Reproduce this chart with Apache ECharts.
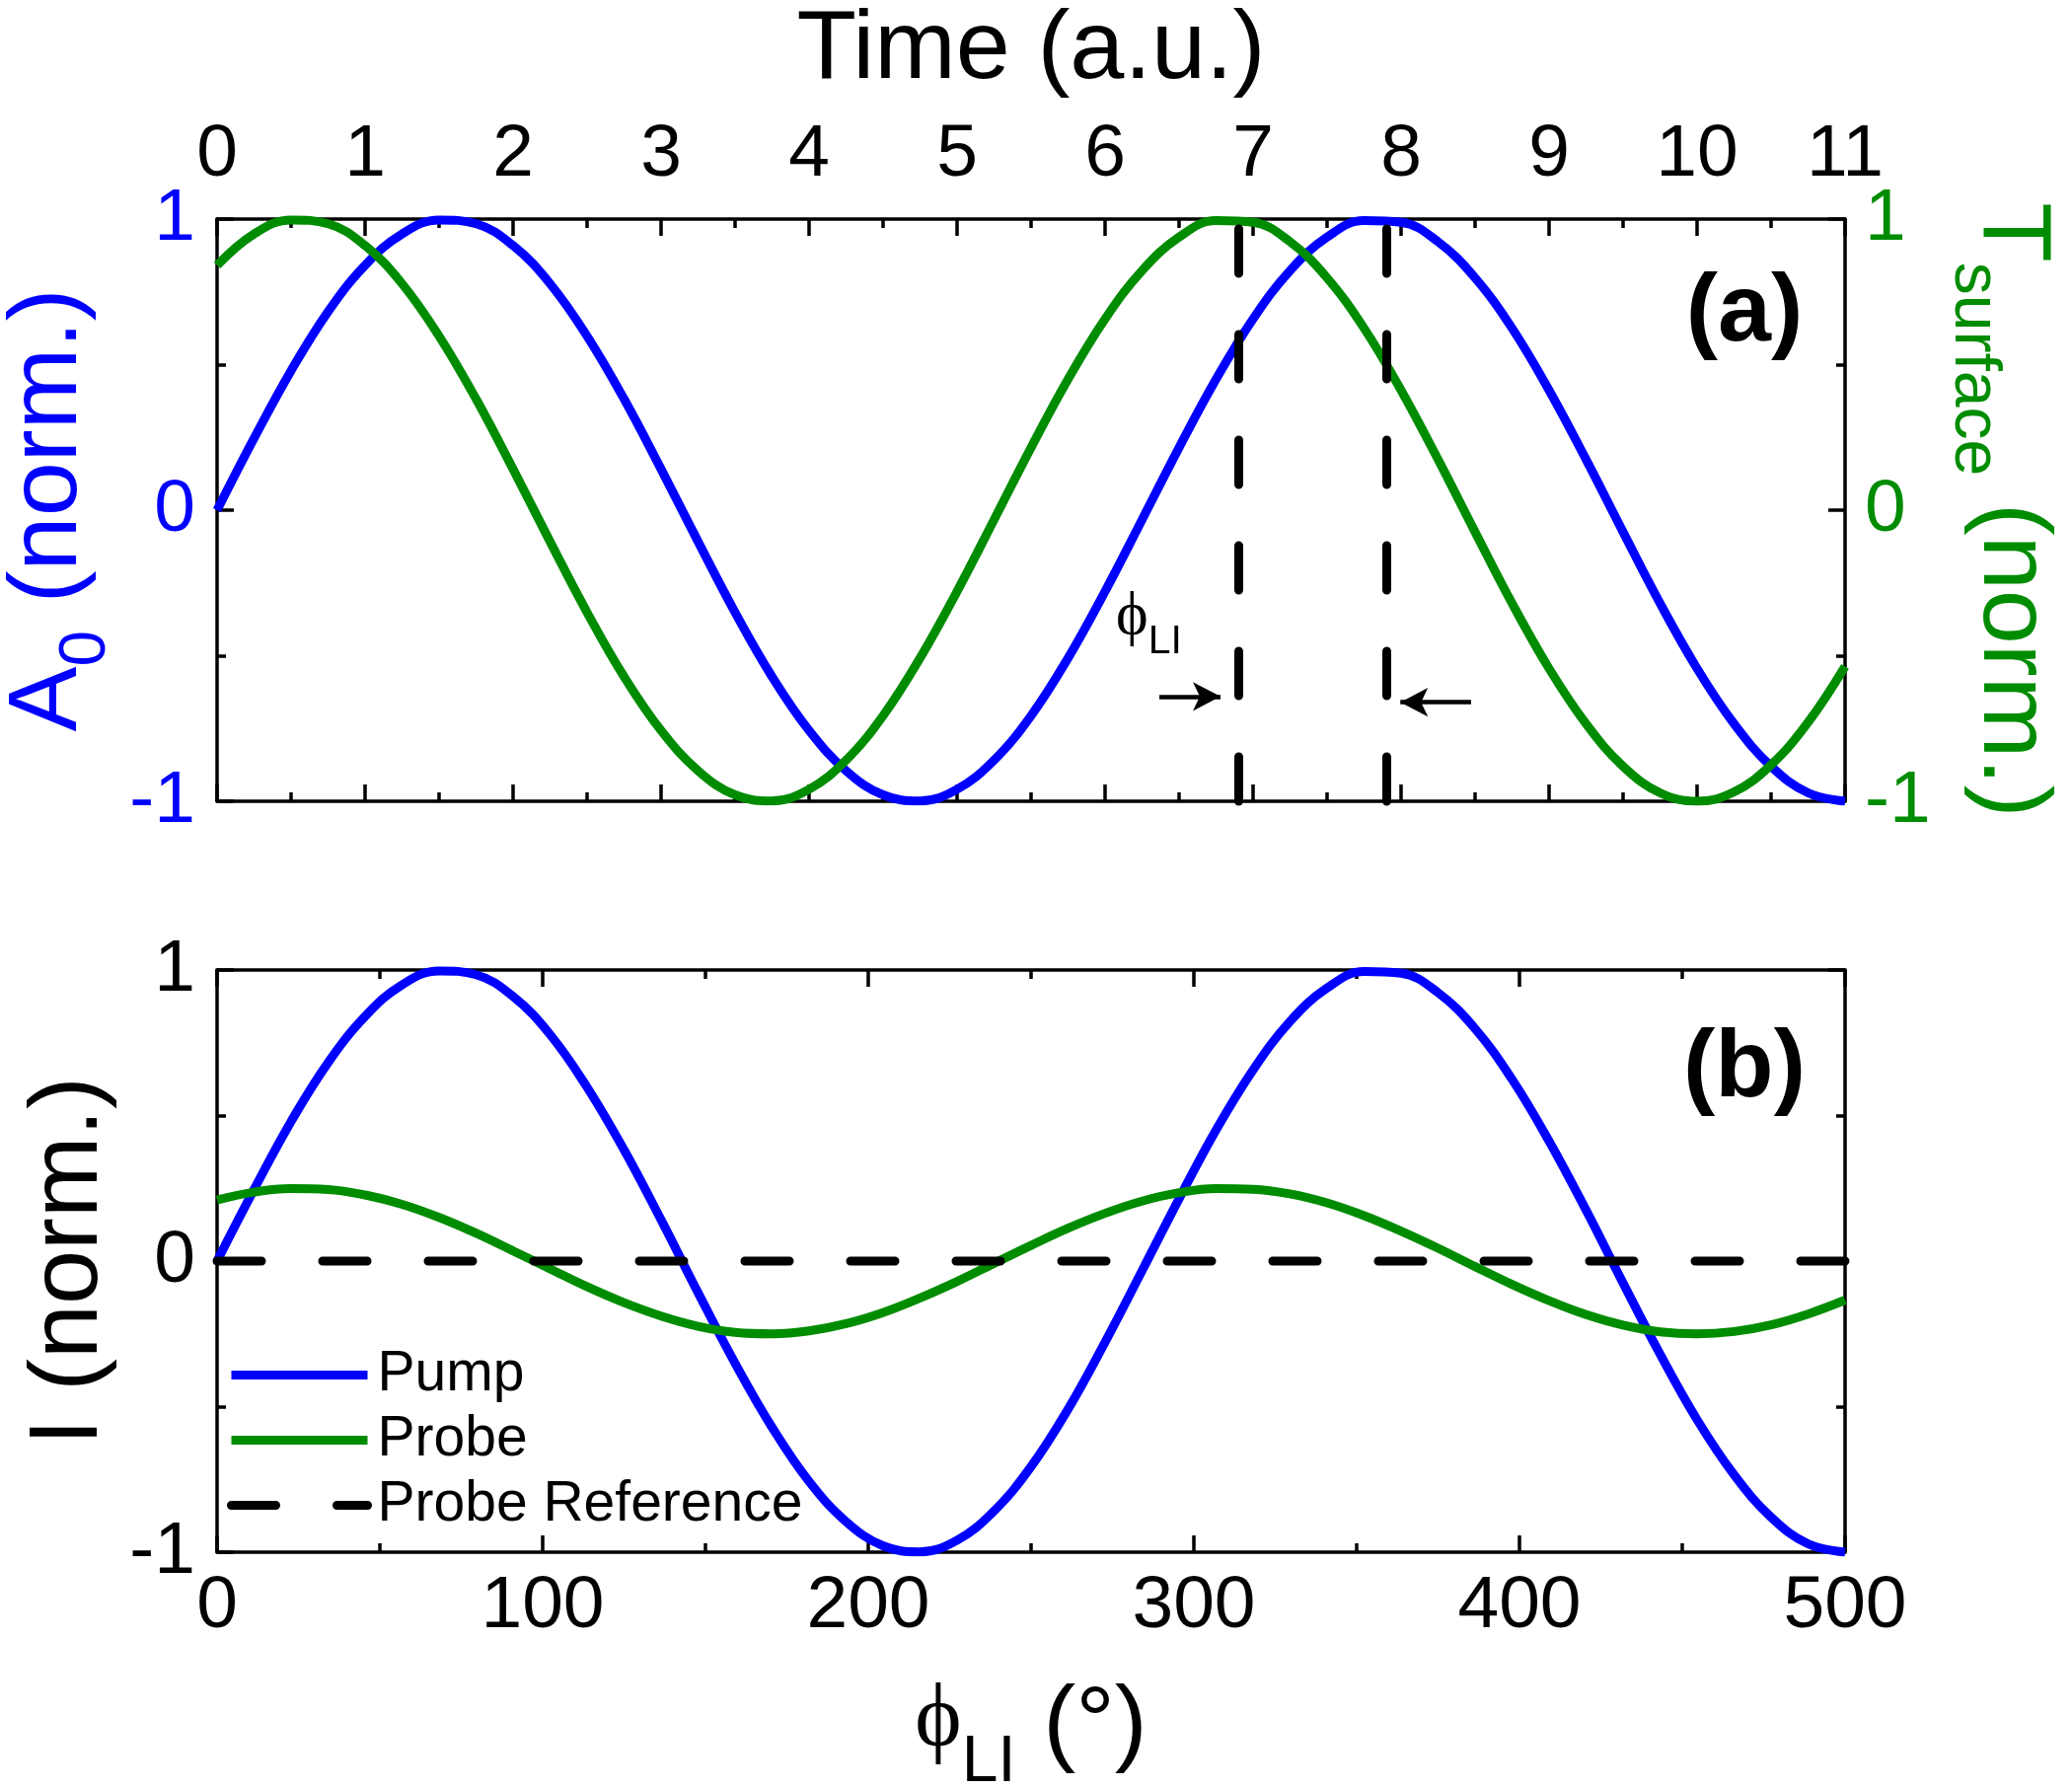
<!DOCTYPE html>
<html>
<head>
<meta charset="utf-8">
<title>Pump / probe phase</title>
<script src="https://cdn.jsdelivr.net/npm/echarts@6/dist/echarts.min.js"></script>
<style>
  html, body { margin: 0; padding: 0; background: #fff; }
  #chart { width: 2100px; height: 1813px; }
</style>
</head>
<body>
<div id="chart"></div>
<script>
/* values, one sample every 0.25 a.u. of time */

// panel (a): time axis (a.u.)
var sampleTime = [0, 0.25, 0.5, 0.75, 1, 1.25, 1.5, 1.75, 2, 2.25, 2.5, 2.75, 3, 3.25, 3.5, 3.75,
    4, 4.25, 4.5, 4.75, 5, 5.25, 5.5, 5.75, 6, 6.25, 6.5, 6.75, 7, 7.25, 7.5, 7.75,
    8, 8.25, 8.5, 8.75, 9, 9.25, 9.5, 9.75, 10, 10.25, 10.5, 10.75, 11];
// A0 (norm.)  - blue
var pumpA0 = [0, 0.247, 0.479, 0.682, 0.841, 0.949, 0.997, 0.984, 0.909, 0.778, 0.598, 0.382, 0.141,
    -0.108, -0.351, -0.572, -0.757, -0.895, -0.978, -0.999, -0.959, -0.859, -0.706, -0.508, -0.279,
    -0.033, 0.215, 0.450, 0.657, 0.823, 0.938, 0.995, 0.989, 0.922, 0.798, 0.625, 0.412, 0.174,
    -0.075, -0.320, -0.544, -0.734, -0.880, -0.971, -1.000];
// T surface (norm.) - green
var surfaceT = [0.841, 0.949, 0.997, 0.984, 0.909, 0.778, 0.598, 0.382, 0.141, -0.108, -0.351,
    -0.572, -0.757, -0.895, -0.978, -0.999, -0.959, -0.859, -0.706, -0.508, -0.279, -0.033, 0.215,
    0.450, 0.657, 0.823, 0.938, 0.995, 0.989, 0.922, 0.798, 0.625, 0.412, 0.174, -0.075, -0.320,
    -0.544, -0.734, -0.880, -0.971, -1.000, -0.968, -0.875, -0.729, -0.537];
// dashed markers and the two arrows of phi_LI
var markerTime = [6.9, 7.9];
var arrowLeft = [[6.367, -0.64], [6.78, -0.64]];
var arrowRight = [[8.473, -0.66], [7.995, -0.66]];

// panel (b): phi_LI (deg)
var phiDeg = [0, 11.4, 22.7, 34.1, 45.5, 56.8, 68.2, 79.5, 90.9, 102.3, 113.6, 125.0, 136.4, 147.7,
    159.1, 170.5, 181.8, 193.2, 204.5, 215.9, 227.3, 238.6, 250.0, 261.4, 272.7, 284.1, 295.5,
    306.8, 318.2, 329.5, 340.9, 352.3, 363.6, 375.0, 386.4, 397.7, 409.1, 420.5, 431.8, 443.2,
    454.5, 465.9, 477.3, 488.6, 500.0];
var pumpI = [0, 0.247, 0.479, 0.682, 0.841, 0.949, 0.997, 0.984, 0.909, 0.778, 0.598, 0.382, 0.141,
    -0.108, -0.351, -0.572, -0.757, -0.895, -0.978, -0.999, -0.959, -0.859, -0.706, -0.508, -0.279,
    -0.033, 0.215, 0.450, 0.657, 0.823, 0.938, 0.995, 0.989, 0.922, 0.798, 0.625, 0.412, 0.174,
    -0.075, -0.320, -0.544, -0.734, -0.880, -0.971, -1.000];
var probeI = [0.210, 0.237, 0.249, 0.246, 0.227, 0.195, 0.150, 0.096, 0.035, -0.027, -0.088, -0.143,
    -0.189, -0.224, -0.245, -0.250, -0.240, -0.215, -0.177, -0.127, -0.070, -0.008, 0.054, 0.113,
    0.164, 0.206, 0.235, 0.249, 0.247, 0.231, 0.200, 0.156, 0.103, 0.044, -0.019, -0.080, -0.136,
    -0.184, -0.220, -0.243, -0.250, -0.242, -0.219, -0.182, -0.134];
var refDeg = [0, 500];
var refI = [0, 0];

var legendNames = ['Pump', 'Probe', 'Probe Reference'];


var FONT = "'Liberation Sans', Arial, sans-serif";
var SERIF = "'Liberation Serif', 'DejaVu Serif', serif";
var BLUE = '#0000ff', GREEN = '#008c00', BLACK = '#000000';
var LW = 9;                       // curve width
var SMOOTH = 0.4;
var DASH = [45, 62];              // dash pattern (round caps add the width)

function pairs(xs, ys) {
    return xs.map(function (x, i) { return [x, ys[i]]; });
}

// rich text pieces for axis names with a subscript
function nameRich(color) {
    return {
        n: { fontSize: 99, lineHeight: 99, fontFamily: FONT, color: color, verticalAlign: 'top' },
        phi: { fontSize: 90, lineHeight: 104, fontFamily: SERIF, color: color, verticalAlign: 'top' },
        sub: { fontSize: 66, lineHeight: 66, fontFamily: FONT, color: color, verticalAlign: 'top', padding: [54, 0, 0, 0] }
    };
}

/* one framed axis; o = {grid, position, min, max, interval, label, color, margin, name...} */
function axis(o) {
    var a = {
        type: 'value',
        gridIndex: o.grid,
        position: o.position,
        min: o.min, max: o.max, interval: o.interval,
        axisLine: { show: true, onZero: false, lineStyle: { color: BLACK, width: 3.5 } },
        axisTick: { show: true, inside: true, length: 17, lineStyle: { color: BLACK, width: 3.5 } },
        minorTick: { show: true, splitNumber: 2, length: 9, lineStyle: { color: BLACK, width: 3.5 } },
        splitLine: { show: false },
        minorSplitLine: { show: false },
        axisLabel: { show: false }
    };
    if (o.label) {
        a.axisLabel = {
            show: true, color: o.color || BLACK, fontSize: 75, fontFamily: FONT,
            margin: o.margin, showMinLabel: true, showMaxLabel: true, hideOverlap: false
        };
    }
    if (o.name) {
        a.name = o.name;
        a.nameLocation = 'middle';
        a.nameGap = o.nameGap;
        if (o.nameRotate !== undefined) a.nameRotate = o.nameRotate;
        a.nameTextStyle = {
            fontSize: 99, fontFamily: FONT, color: o.color || BLACK,
            rich: nameRich(o.color || BLACK)
        };
    }
    return a;
}

var chart = echarts.init(document.getElementById('chart'));

var option = {
    animation: false,
    backgroundColor: '#ffffff',
    grid: [
        { left: 220, top: 222, width: 1650, height: 590, containLabel: false, outerBoundsMode: 'none' },
        { left: 220, top: 983, width: 1650, height: 590, containLabel: false, outerBoundsMode: 'none' }
    ],
    xAxis: [
        axis({ grid: 0, position: 'top', min: 0, max: 11, interval: 1, label: true, margin: 27,
            name: 'Time (a.u.)', nameGap: 121 }),
        axis({ grid: 0, position: 'bottom', min: 0, max: 11, interval: 1 }),
        axis({ grid: 1, position: 'bottom', min: 0, max: 500, interval: 100, label: true, margin: 18,
            name: '{phi|ϕ}{sub|LI}{n| (°)}', nameGap: 127 }),
        axis({ grid: 1, position: 'top', min: 0, max: 500, interval: 100 })
    ],
    yAxis: [
        axis({ grid: 0, position: 'left', min: -1, max: 1, interval: 1, label: true, margin: 22, color: BLUE,
            name: '{n|A}{sub|0}{n| (norm.)}', nameGap: 93, nameRotate: 90 }),
        axis({ grid: 0, position: 'right', min: -1, max: 1, interval: 1, label: true, margin: 20, color: GREEN,
            name: '{n|T}{sub|surface}{n| (norm.)}', nameGap: 83, nameRotate: -90 }),
        axis({ grid: 1, position: 'left', min: -1, max: 1, interval: 1, label: true, margin: 22,
            name: 'I (norm.)', nameGap: 95, nameRotate: 90 }),
        axis({ grid: 1, position: 'right', min: -1, max: 1, interval: 1 })
    ],
    legend: {
        data: [
            { name: legendNames[0], lineStyle: { width: LW } },
            { name: legendNames[1], lineStyle: { width: LW } },
            { name: legendNames[2], lineStyle: { width: 9, type: DASH, cap: 'round' } }
        ],
        orient: 'vertical',
        left: 230, top: 1365, padding: 0,
        itemWidth: 138, itemHeight: 14, itemGap: 9,
        selectedMode: false,
        itemStyle: { opacity: 0 },
        textStyle: { fontSize: 57, fontFamily: FONT, color: BLACK, padding: [0, 0, 0, 5] }
    },
    graphic: [
        { type: 'text', silent: true,
          style: { text: '(a)', x: 1768, y: 318, textAlign: 'center', textVerticalAlign: 'middle',
                   font: 'bold 97px ' + FONT, fill: BLACK } },
        { type: 'text', silent: true,
          style: { text: '(b)', x: 1768, y: 1084, textAlign: 'center', textVerticalAlign: 'middle',
                   font: 'bold 97px ' + FONT, fill: BLACK } },
        { type: 'text', silent: true,
          style: { text: '{p|ϕ}{s|LI}', x: 1131, y: 595, textAlign: 'left', textVerticalAlign: 'top',
                   fill: BLACK,
                   rich: {
                       p: { fontSize: 62, lineHeight: 62, fontFamily: SERIF, fill: BLACK, verticalAlign: 'top' },
                       s: { fontSize: 41, lineHeight: 41, fontFamily: FONT, fill: BLACK, verticalAlign: 'top', padding: [35, 0, 0, 0] }
                   } } }
    ],
    series: [
        {
            name: 'A0', type: 'line', xAxisIndex: 0, yAxisIndex: 0,
            data: pairs(sampleTime, pumpA0),
            smooth: SMOOTH, symbol: 'none', silent: true,
            lineStyle: { color: BLUE, width: LW },
            markLine: {
                silent: true, symbol: ['none', 'none'], symbolSize: [22, 28], animation: false,
                label: { show: false },
                lineStyle: { color: BLACK, width: 9, type: DASH, cap: 'round' },
                data: [
                    [{ coord: [markerTime[0], -1] }, { coord: [markerTime[0], 1] }],
                    [{ coord: [markerTime[1], -1] }, { coord: [markerTime[1], 1] }],
                    [{ coord: arrowLeft[0], lineStyle: { type: 'solid', width: 4.5, cap: 'butt' } },
                     { coord: arrowLeft[1], symbol: 'arrow', symbolSize: [22, 28] }],
                    [{ coord: arrowRight[0], lineStyle: { type: 'solid', width: 4.5, cap: 'butt' } },
                     { coord: arrowRight[1], symbol: 'arrow', symbolSize: [22, 28] }]
                ]
            }
        },
        {
            name: 'Tsurface', type: 'line', xAxisIndex: 0, yAxisIndex: 1,
            data: pairs(sampleTime, surfaceT),
            smooth: SMOOTH, symbol: 'none', silent: true,
            lineStyle: { color: GREEN, width: LW }
        },
        {
            name: 'Pump', type: 'line', xAxisIndex: 2, yAxisIndex: 2,
            data: pairs(phiDeg, pumpI),
            smooth: SMOOTH, symbol: 'none', silent: true,
            itemStyle: { color: BLUE },
            lineStyle: { color: BLUE, width: LW }
        },
        {
            name: 'Probe', type: 'line', xAxisIndex: 2, yAxisIndex: 2,
            data: pairs(phiDeg, probeI),
            smooth: SMOOTH, symbol: 'none', silent: true,
            itemStyle: { color: GREEN },
            lineStyle: { color: GREEN, width: LW }
        },
        {
            name: 'Probe Reference', type: 'line', xAxisIndex: 2, yAxisIndex: 2,
            data: pairs(refDeg, refI),
            symbol: 'none', silent: true,
            itemStyle: { color: BLACK },
            lineStyle: { color: BLACK, width: 9, type: DASH, cap: 'round' }
        }
    ]
};

chart.setOption(option);
</script>
</body>
</html>
